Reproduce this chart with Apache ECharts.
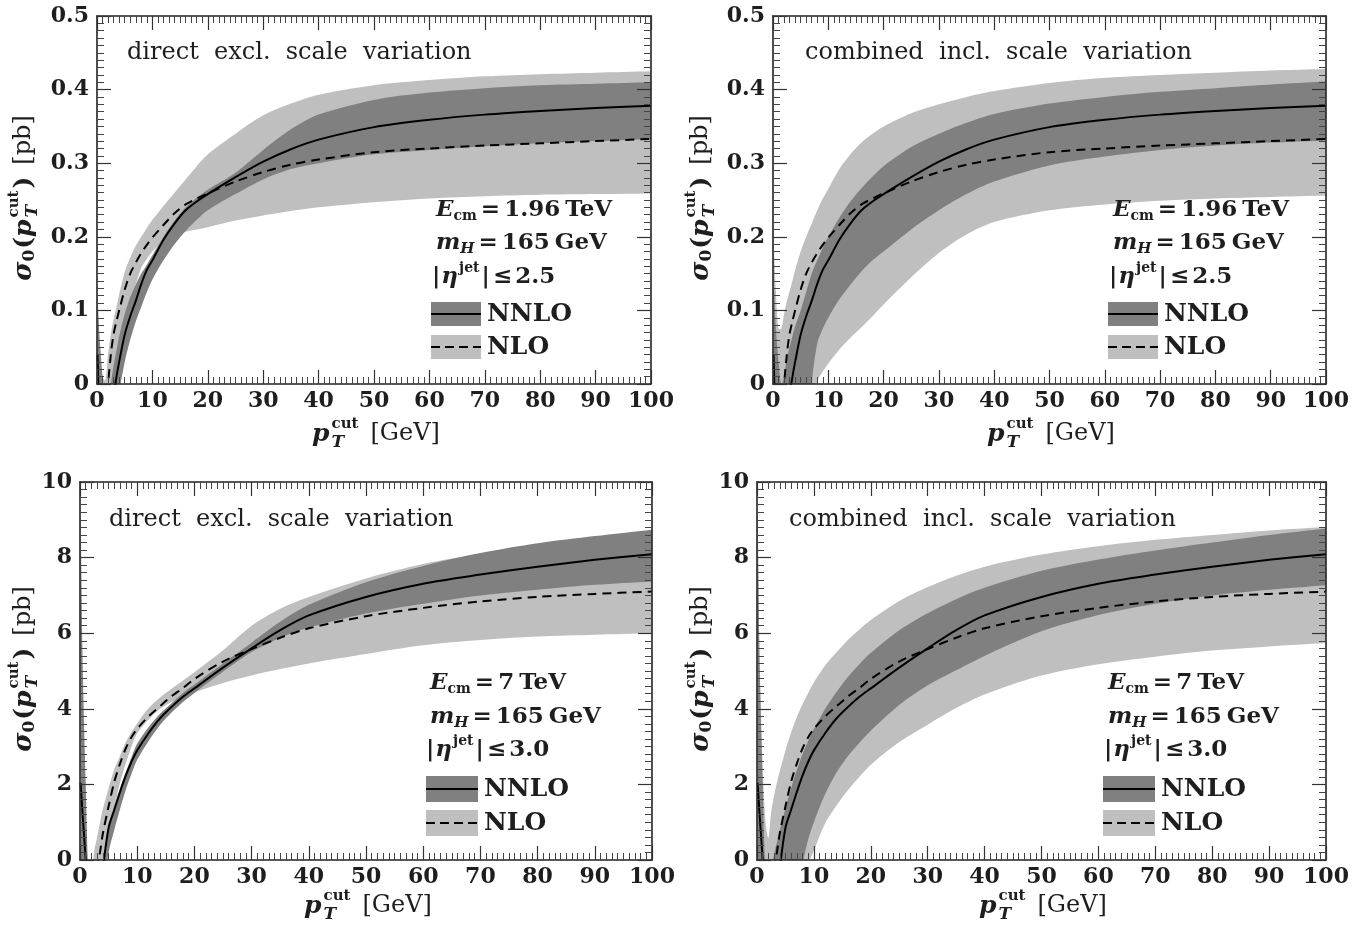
<!DOCTYPE html>
<html>
<head>
<meta charset="utf-8">
<script src="https://cdn.jsdelivr.net/npm/echarts@6/dist/echarts.min.js"></script>
<style>
html,body{margin:0;padding:0;background:#fff;}
#chart{width:1371px;height:938px;}
</style>
</head>
<body>
<div id="chart"></div>
<script>
// ---------------- data ----------------
const pT = [0.1, 0.5, 1, 1.5, 2, 2.5, 3, 3.5, 4, 5, 6, 7, 8, 9, 10, 12, 14, 16, 18, 20, 25, 30, 35, 40, 50, 60, 70, 80, 90, 100];

// Tevatron (E_cm = 1.96 TeV, |eta| <= 2.5) central values [pb]
const tevNNLO = [0.04, -0.08, -0.3, -0.25, -0.12, -0.06, -0.015, 0.009, 0.03, 0.067, 0.092, 0.113, 0.136, 0.155, 0.168, 0.196, 0.218, 0.236, 0.248, 0.258, 0.281, 0.302, 0.319, 0.332, 0.349, 0.359, 0.366, 0.371, 0.375, 0.378];
const tevNLO = [-1.5, -0.6, -0.3, -0.12, -0.004, 0.04, 0.068, 0.085, 0.1, 0.128, 0.15, 0.165, 0.178, 0.189, 0.199, 0.216, 0.232, 0.244, 0.252, 0.259, 0.275, 0.288, 0.298, 0.305, 0.315, 0.32, 0.324, 0.327, 0.33, 0.333];
// direct excl. scale variation
const tevDirNNLOLo = [-1, -1, -1, -1, -0.5, -0.2, -0.06, -0.03, -0.01, 0.03, 0.06, 0.085, 0.105, 0.125, 0.142, 0.168, 0.19, 0.208, 0.223, 0.236, 0.258, 0.278, 0.292, 0.3, 0.312, 0.318, 0.323, 0.327, 0.33, 0.333];
const tevDirNNLOHi = [0.12, 0.06, 0.01, -0.04, -0.03, 0, 0.025, 0.045, 0.065, 0.095, 0.118, 0.135, 0.15, 0.162, 0.175, 0.2, 0.222, 0.24, 0.253, 0.264, 0.287, 0.318, 0.346, 0.366, 0.386, 0.396, 0.402, 0.406, 0.408, 0.41];
const tevDirNLOLo = [-1, -1, -0.5, -0.3, -0.15, -0.08, -0.03, 0.005, 0.03, 0.065, 0.105, 0.135, 0.158, 0.17, 0.18, 0.194, 0.202, 0.207, 0.21, 0.213, 0.222, 0.229, 0.235, 0.24, 0.247, 0.252, 0.255, 0.257, 0.258, 0.259];
const tevDirNLOHi = [0.08, 0.04, 0.01, 0.005, 0.04, 0.068, 0.088, 0.104, 0.122, 0.152, 0.172, 0.188, 0.2, 0.212, 0.223, 0.242, 0.26, 0.278, 0.296, 0.312, 0.34, 0.365, 0.381, 0.393, 0.406, 0.413, 0.418, 0.421, 0.423, 0.425];
// combined incl. scale variation
const tevComNNLOLo = [-1, -1, -1, -1, -1, -1, -1, -0.8, -0.6, -0.3, -0.1, 0, 0.055, 0.075, 0.09, 0.115, 0.135, 0.153, 0.168, 0.18, 0.21, 0.236, 0.258, 0.275, 0.297, 0.309, 0.318, 0.324, 0.328, 0.331];
const tevComNNLOHi = [0.15, 0.08, 0.03, 0, 0.01, 0.035, 0.05, 0.065, 0.078, 0.1, 0.125, 0.15, 0.168, 0.185, 0.2, 0.226, 0.248, 0.266, 0.282, 0.296, 0.322, 0.34, 0.355, 0.367, 0.381, 0.39, 0.397, 0.402, 0.407, 0.411];
const tevComNLOLo = [-1, -1, -1, -1, -1, -1, -1, -1, -1, -1, -0.3, -0.04, 0.004, 0.017, 0.028, 0.047, 0.063, 0.077, 0.092, 0.108, 0.145, 0.178, 0.203, 0.22, 0.236, 0.244, 0.249, 0.252, 0.254, 0.256];
const tevComNLOHi = [0.2, 0.13, 0.075, 0.075, 0.095, 0.112, 0.126, 0.14, 0.155, 0.18, 0.2, 0.218, 0.236, 0.252, 0.265, 0.292, 0.312, 0.328, 0.34, 0.35, 0.368, 0.38, 0.39, 0.398, 0.409, 0.416, 0.42, 0.423, 0.426, 0.428];

// LHC (E_cm = 7 TeV, |eta| <= 3.0) central values [pb]
const lhcNNLO = [2.04, 1.1, 0, -1.5, -2.5, -2.2, -1.6, -0.9, -0.22, 0.85, 1.33, 1.8, 2.23, 2.6, 2.9, 3.36, 3.75, 4.05, 4.32, 4.54, 5.09, 5.6, 6.08, 6.47, 6.96, 7.31, 7.55, 7.76, 7.94, 8.09];
const lhcNLO = [-30, -15, -8, -5, -3, -1.3, -0.3, 0.2, 0.7, 1.42, 2.07, 2.55, 2.95, 3.25, 3.47, 3.8, 4.07, 4.33, 4.55, 4.79, 5.25, 5.58, 5.88, 6.13, 6.45, 6.67, 6.84, 6.96, 7.04, 7.1];
// direct excl. scale variation
const lhcDirNNLOLo = [-5, -5, -5, -5, -5, -5, -4, -2.5, -1, 0.2, 0.8, 1.35, 1.85, 2.28, 2.65, 3.15, 3.57, 3.9, 4.18, 4.42, 4.98, 5.5, 5.88, 6.15, 6.52, 6.78, 7.0, 7.15, 7.28, 7.37];
const lhcDirNNLOHi = [9.4, 5.0, 2.0, -0.5, -1, -1, -0.8, -0.5, -0.1, 0.88, 1.42, 1.9, 2.32, 2.72, 3.08, 3.52, 3.87, 4.15, 4.42, 4.64, 5.2, 5.75, 6.3, 6.75, 7.35, 7.78, 8.12, 8.38, 8.57, 8.74];
const lhcDirNLOLo = [-10, -10, -10, -10, -8, -5, -3, -1.8, -0.5, 0.55, 1.35, 2.05, 2.55, 3.0, 3.35, 3.72, 4.0, 4.18, 4.3, 4.43, 4.68, 4.88, 5.05, 5.2, 5.45, 5.68, 5.82, 5.91, 5.96, 6.0];
const lhcDirNLOHi = [-3, -3, -2, -1.2, -0.5, 0.25, 0.6, 1.0, 1.35, 1.9, 2.4, 2.75, 3.12, 3.38, 3.62, 4.02, 4.3, 4.53, 4.75, 4.97, 5.55, 6.2, 6.65, 6.96, 7.45, 7.83, 8.1, 8.3, 8.45, 8.56];
// combined incl. scale variation
const lhcComNNLOLo = [-5, -5, -5, -5, -5, -5, -5, -5, -5, -5, -3, -0.8, -0.1, 0.55, 1.0, 1.75, 2.32, 2.75, 3.1, 3.42, 4.1, 4.62, 5.02, 5.4, 6.05, 6.48, 6.78, 7.0, 7.15, 7.27];
const lhcComNNLOHi = [9.4, 5.0, 2.0, -0.3, -0.8, -0.3, 0.15, 0.47, 0.78, 1.36, 1.9, 2.38, 2.8, 3.15, 3.47, 4.0, 4.45, 4.85, 5.18, 5.48, 6.08, 6.53, 6.9, 7.2, 7.65, 7.95, 8.19, 8.4, 8.6, 8.77];
const lhcComNLOLo = [-10, -10, -10, -10, -10, -10, -10, -10, -10, -10, -10, -10, -0.5, -0.1, 0.25, 0.98, 1.45, 1.85, 2.2, 2.52, 3.12, 3.58, 4.02, 4.38, 4.88, 5.18, 5.38, 5.54, 5.65, 5.74];
const lhcComNLOHi = [8.5, 5.0, 2.5, 1.0, 0.58, 1.29, 1.7, 2.05, 2.35, 2.9, 3.37, 3.78, 4.12, 4.42, 4.7, 5.15, 5.5, 5.83, 6.1, 6.35, 6.85, 7.22, 7.52, 7.76, 8.08, 8.3, 8.47, 8.6, 8.72, 8.81];

const panelTitles = ['direct  excl.  scale  variation', 'combined  incl.  scale  variation', 'direct  excl.  scale  variation', 'combined  incl.  scale  variation'];
const energyLabels = ['1.96', '1.96', '7', '7'];
const etaLabels = ['2.5', '2.5', '3.0', '3.0'];
const legendNames = ['NNLO', 'NLO'];

// ---------------- styling ----------------
const DARK = '#808080', LIGHT = '#bfbfbf', INK = '#1e1e1e';
const SERIF = '"DejaVu Serif", "Liberation Serif", serif';
const F = (style, size) => style + ' ' + size + 'px ' + SERIF;
const SM = 0.3;

const panels = [
  { grid: {left: 97, top: 16, width: 554, height: 368}, ymax: 0.5, yint: 0.1,
    nnlo: tevNNLO, nlo: tevNLO, nnloLo: tevDirNNLOLo, nnloHi: tevDirNNLOHi, nloLo: tevDirNLOLo, nloHi: tevDirNLOHi,
    title: [127, 53], info: [436, 210, 243, 432, 277], leg: [431, 302, 50, 24, 335, 487], xt: [376, 434], yt: [24, 198] },
  { grid: {left: 773, top: 16, width: 553, height: 368}, ymax: 0.5, yint: 0.1,
    nnlo: tevNNLO, nlo: tevNLO, nnloLo: tevComNNLOLo, nnloHi: tevComNNLOHi, nloLo: tevComNLOLo, nloHi: tevComNLOHi,
    title: [805, 53], info: [1113, 210, 243, 1109, 277], leg: [1108, 302, 50, 24, 335, 1164], xt: [1051, 434], yt: [701, 198] },
  { grid: {left: 80, top: 482, width: 572, height: 378}, ymax: 10, yint: 2,
    nnlo: lhcNNLO, nlo: lhcNLO, nnloLo: lhcDirNNLOLo, nnloHi: lhcDirNNLOHi, nloLo: lhcDirNLOLo, nloHi: lhcDirNLOHi,
    title: [109, 520], info: [430, 683, 717, 426, 750], leg: [426, 776, 52, 26, 810, 484], xt: [368, 906], yt: [24, 669] },
  { grid: {left: 757, top: 482, width: 569, height: 378}, ymax: 10, yint: 2,
    nnlo: lhcNNLO, nlo: lhcNLO, nnloLo: lhcComNNLOLo, nnloHi: lhcComNNLOHi, nloLo: lhcComNLOLo, nloHi: lhcComNLOHi,
    title: [789, 520], info: [1108, 683, 717, 1104, 750], leg: [1103, 776, 52, 26, 810, 1161], xt: [1043, 906], yt: [701, 669] }
];

// ---------------- helpers ----------------
const measCtx = document.createElement('canvas').getContext('2d');
function tw(text, font) { measCtx.font = font; return measCtx.measureText(text).width; }

function mathLabel(pieces, x, y, align, rotation) {
  let cursor = 0, lastStart = 0;
  const kids = [];
  pieces.forEach(p => {
    const w = tw(p.t, p.f);
    let x0;
    if (p.stack) { x0 = lastStart; cursor = Math.max(cursor, x0 + w); }
    else { x0 = cursor + (p.gap || 0); lastStart = x0; cursor = x0 + w; }
    kids.push({ type: 'text', z: 100, silent: true, x: x0, y: p.dy || 0,
      style: { text: p.t, font: p.f, fill: INK, textAlign: 'left', textVerticalAlign: 'middle' } });
  });
  const off = align === 'center' ? -cursor / 2 : 0;
  kids.forEach(k => { k.x += off; });
  return { type: 'group', x: x, y: y, rotation: rotation || 0, z: 100, children: kids };
}

// closed band polygon: upper edge left->right, lower edge right->left; all four corner points are
// doubled so the smoothing keeps the two edges independent and the end edges straight
function bandRenderer(lo, hi, color) {
  return function (params, api) {
    if (params.dataIndex !== 0) return null;
    const n = pT.length, pts = [];
    const up = pT.map((x, k) => api.coord([x, hi[k]]));
    const dn = pT.map((x, k) => api.coord([x, lo[k]]));
    pts.push(up[0]);
    for (let k = 0; k < n; k++) pts.push(up[k]);
    pts.push(up[n - 1]);
    pts.push(dn[n - 1]);
    for (let k = n - 1; k >= 0; k--) pts.push(dn[k]);
    pts.push(dn[0]);
    return { type: 'polygon', shape: { points: pts, smooth: 0.3 }, style: { fill: color, stroke: null } };
  };
}

function axisCommon(isX, show, ymax, yint) {
  return {
    type: 'value',
    min: 0, max: isX ? 100 : ymax, interval: isX ? 10 : yint,
    z: 10,
    axisLine: { show: true, onZero: false, lineStyle: { color: '#222', width: 1.6 } },
    axisTick: { show: true, inside: true, length: 14, lineStyle: { color: '#333', width: 1.2 } },
    minorTick: { show: true, splitNumber: 10, length: 7, lineStyle: { color: '#444', width: 1 } },
    splitLine: { show: false }, minorSplitLine: { show: false },
    axisLabel: { show: show, showMinLabel: true, showMaxLabel: true, color: INK,
      fontFamily: SERIF, fontWeight: 'bold', fontSize: 22, margin: isX ? 6 : 8 }
  };
}

// ---------------- build option ----------------
const grids = [], xAxes = [], yAxes = [], series = [], graphics = [];
panels.forEach((p, i) => {
  grids.push(Object.assign({ outerBoundsMode: 'none', containLabel: false }, p.grid));
  xAxes[i] = Object.assign(axisCommon(true, true), { gridIndex: i, position: 'bottom' });
  xAxes[i + 4] = Object.assign(axisCommon(true, false), { gridIndex: i, position: 'top' });
  yAxes[i] = Object.assign(axisCommon(false, true, p.ymax, p.yint), { gridIndex: i, position: 'left' });
  yAxes[i + 4] = Object.assign(axisCommon(false, false, p.ymax, p.yint), { gridIndex: i, position: 'right' });

  const rows = (lo, hi) => pT.map((x, k) => [x, lo[k], hi[k]]);
  series.push({ type: 'custom', name: 'NLO band', xAxisIndex: i, yAxisIndex: i, clip: true, silent: true, z: 2,
    encode: { x: 0, y: [1, 2] }, data: rows(p.nloLo, p.nloHi), renderItem: bandRenderer(p.nloLo, p.nloHi, LIGHT) });
  series.push({ type: 'custom', name: 'NNLO band', xAxisIndex: i, yAxisIndex: i, clip: true, silent: true, z: 3,
    encode: { x: 0, y: [1, 2] }, data: rows(p.nnloLo, p.nnloHi), renderItem: bandRenderer(p.nnloLo, p.nnloHi, DARK) });
  series.push({ type: 'line', name: 'NLO', xAxisIndex: i, yAxisIndex: i, clip: true, silent: true, z: 4,
    showSymbol: false, symbol: 'none', smooth: SM, data: pT.map((x, k) => [x, p.nlo[k]]),
    lineStyle: { color: '#000', width: 2, type: [9, 6] } });
  series.push({ type: 'line', name: 'NNLO', xAxisIndex: i, yAxisIndex: i, clip: true, silent: true, z: 5,
    showSymbol: false, symbol: 'none', smooth: SM, data: pT.map((x, k) => [x, p.nnlo[k]]),
    lineStyle: { color: '#000', width: 2 } });

  // panel title
  graphics.push({ type: 'text', z: 100, silent: true, x: p.title[0], y: p.title[1],
    style: { text: panelTitles[i], font: F('normal', 24), fill: INK, textAlign: 'left', textVerticalAlign: 'middle' } });

  // physics info lines
  const S = 23;
  graphics.push(mathLabel([
    { t: 'E', f: F('italic bold', S) },
    { t: 'cm', f: F('bold', 14), dy: 6, gap: 0 },
    { t: '=', f: F('bold', S), gap: 4 },
    { t: energyLabels[i], f: F('bold', S), gap: 4 },
    { t: 'TeV', f: F('bold', S), gap: 5 }
  ], p.info[0], p.info[1], 'left'));
  graphics.push(mathLabel([
    { t: 'm', f: F('italic bold', S) },
    { t: 'H', f: F('italic bold', 15), dy: 6, gap: 0 },
    { t: '=', f: F('bold', S), gap: 4 },
    { t: '165', f: F('bold', S), gap: 4 },
    { t: 'GeV', f: F('bold', S), gap: 5 }
  ], p.info[0], p.info[2], 'left'));
  graphics.push(mathLabel([
    { t: '|', f: F('bold', S) },
    { t: 'η', f: F('italic bold', S), gap: 1 },
    { t: 'jet', f: F('bold', 14), dy: -9, gap: 1 },
    { t: '|', f: F('bold', S), gap: 2 },
    { t: '≤', f: F('bold', S), gap: 3 },
    { t: etaLabels[i], f: F('bold', S), gap: 3 }
  ], p.info[3], p.info[4], 'left'));

  // legend
  const [lx, ly1, lw, lh, ly2, tx] = p.leg;
  [[ly1, DARK, null, legendNames[0]], [ly2, LIGHT, [9, 5], legendNames[1]]].forEach(([yy, col, dash, name]) => {
    graphics.push({ type: 'rect', z: 100, silent: true, shape: { x: lx, y: yy, width: lw, height: lh }, style: { fill: col } });
    graphics.push({ type: 'line', z: 101, silent: true, shape: { x1: lx, y1: yy + lh / 2, x2: lx + lw, y2: yy + lh / 2 },
      style: { stroke: '#000', lineWidth: 2, lineDash: dash } });
    graphics.push({ type: 'text', z: 100, silent: true, x: tx, y: yy + lh / 2,
      style: { text: name, font: F('bold', 25), fill: INK, textAlign: 'left', textVerticalAlign: 'middle' } });
  });

  // axis titles
  graphics.push(mathLabel([
    { t: 'p', f: F('italic bold', 25) },
    { t: 'cut', f: F('bold', 15), dy: -10, gap: 2 },
    { t: 'T', f: F('italic bold', 17), dy: 9, stack: true },
    { t: '[GeV]', f: F('normal', 24), gap: 12 }
  ], p.xt[0], p.xt[1], 'center'));
  graphics.push(mathLabel([
    { t: 'σ', f: F('italic bold', 26) },
    { t: '0', f: F('bold', 17), dy: 6, gap: 0 },
    { t: '(', f: F('bold', 25), gap: 1 },
    { t: 'p', f: F('italic bold', 25), gap: 0 },
    { t: 'cut', f: F('bold', 15), dy: -10, gap: 2 },
    { t: 'T', f: F('italic bold', 17), dy: 9, stack: true },
    { t: ')', f: F('bold', 25), gap: 2 },
    { t: '[pb]', f: F('normal', 24), gap: 12 }
  ], p.yt[0], p.yt[1], 'center', Math.PI / 2));
});

const chart = echarts.init(document.getElementById('chart'), null, { renderer: 'canvas' });
chart.setOption({
  animation: false,
  backgroundColor: '#fff',
  grid: grids,
  xAxis: xAxes,
  yAxis: yAxes,
  series: series,
  graphic: { elements: graphics }
});
</script>
</body>
</html>
